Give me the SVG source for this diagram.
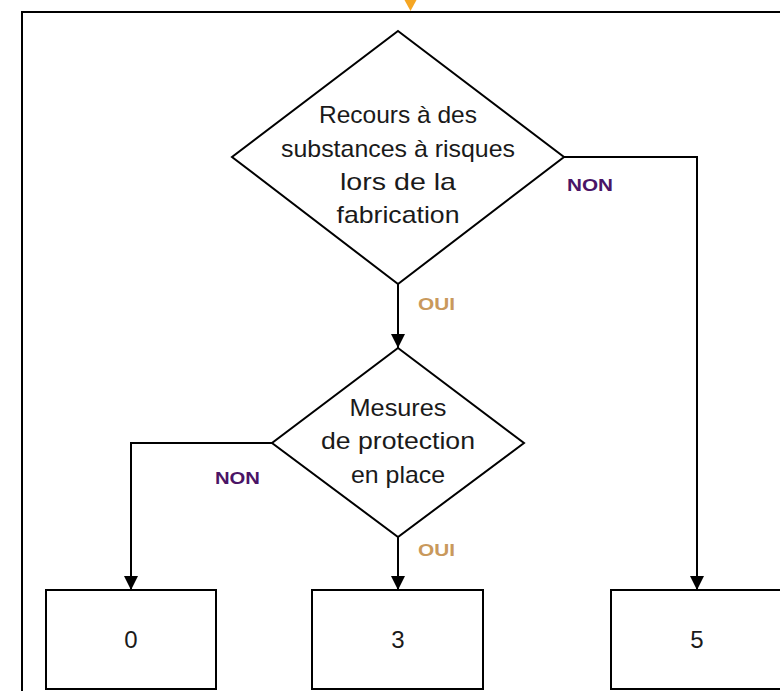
<svg xmlns="http://www.w3.org/2000/svg" width="780" height="691" viewBox="0 0 780 691">
  <defs>
    <marker id="arr" markerUnits="userSpaceOnUse" markerWidth="16" markerHeight="16" viewBox="0 0 16 16" refX="15" refY="8" orient="auto">
      <path d="M1,1 L15,8 L1,15 Z" fill="#000"/>
    </marker>
    <style>
      .shape { fill: #fff; stroke: #000; stroke-width: 2; }
      .frame { fill: none; stroke: #000; stroke-width: 2; }
      .conn { fill: none; stroke: #000; stroke-width: 2; marker-end: url(#arr); }
      .txt { font-family: "Liberation Sans", Arial, sans-serif; font-size: 24px; fill: #1a1a1a; text-anchor: middle; }
      .lbl { font-family: "Liberation Sans", Arial, sans-serif; font-size: 17px; font-weight: bold; }
      .non { fill: #4a1466; }
      .oui { fill: #c9995c; }
    </style>
  </defs>
  <rect width="780" height="691" fill="#fff"/>
  <g id="frame">
    <path class="frame" d="M22,691 L22,12 L780,12"/>
    <path d="M404.5,0 L416.5,0 L410.5,11 Z" fill="#f5a623"/>
  </g>
  <g id="connectors">
    <path class="conn" d="M398,284 L398,348"/>
    <path class="conn" d="M564,157 L697,157 L697,590"/>
    <path class="conn" d="M272,443 L131,443 L131,590"/>
    <path class="conn" d="M398,537 L398,590"/>
    <text class="lbl non" x="567" y="191" textLength="46" lengthAdjust="spacingAndGlyphs">NON</text>
    <text class="lbl oui" x="418" y="310" textLength="37" lengthAdjust="spacingAndGlyphs">OUI</text>
    <text class="lbl non" x="215" y="484" textLength="45" lengthAdjust="spacingAndGlyphs">NON</text>
    <text class="lbl oui" x="418" y="556" textLength="37" lengthAdjust="spacingAndGlyphs">OUI</text>
  </g>
  <g id="decision1">
    <polygon class="shape" points="398,31 564,157 398,284 232,157"/>
    <text class="txt" x="398" y="123" textLength="158" lengthAdjust="spacingAndGlyphs">Recours à des</text>
    <text class="txt" x="398" y="157" textLength="234" lengthAdjust="spacingAndGlyphs">substances à risques</text>
    <text class="txt" x="398" y="190" textLength="116" lengthAdjust="spacingAndGlyphs">lors de la</text>
    <text class="txt" x="398" y="223" textLength="123" lengthAdjust="spacingAndGlyphs">fabrication</text>
  </g>
  <g id="decision2">
    <polygon class="shape" points="398,348 524,443 398,537 272,443"/>
    <text class="txt" x="398" y="416" textLength="97" lengthAdjust="spacingAndGlyphs">Mesures</text>
    <text class="txt" x="398" y="449" textLength="154" lengthAdjust="spacingAndGlyphs">de protection</text>
    <text class="txt" x="398" y="483" textLength="94" lengthAdjust="spacingAndGlyphs">en place</text>
  </g>
  <g id="box0">
    <rect class="shape" x="46" y="590" width="170" height="99"/>
    <text class="txt" x="131" y="648">0</text>
  </g>
  <g id="box3">
    <rect class="shape" x="312" y="590" width="171" height="99"/>
    <text class="txt" x="398" y="648">3</text>
  </g>
  <g id="box5">
    <rect class="shape" x="611" y="590" width="170" height="99"/>
    <text class="txt" x="697" y="648">5</text>
  </g>
</svg>
